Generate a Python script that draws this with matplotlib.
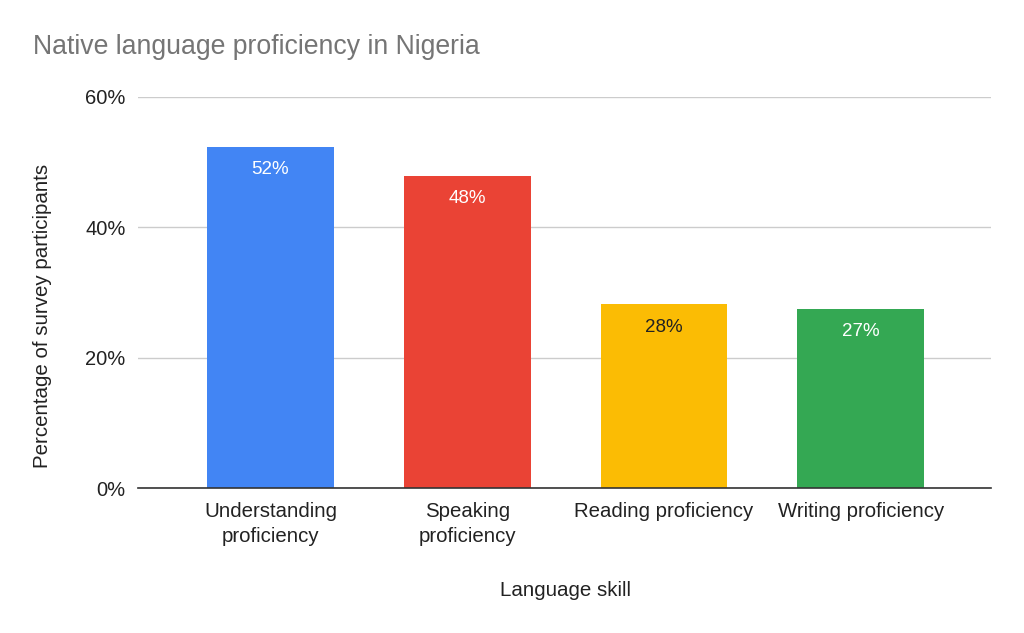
import matplotlib
matplotlib.use("Agg")
import matplotlib.pyplot as plt
from matplotlib.ticker import FuncFormatter

categories = ["Understanding\nproficiency", "Speaking\nproficiency", "Reading proficiency", "Writing proficiency"]
values = [52.4, 47.9, 28.2, 27.5]
labels = ["52%", "48%", "28%", "27%"]
colors = ["#4285F4", "#EA4335", "#FBBC04", "#34A853"]
label_colors = ["white", "white", "#222222", "white"]
yticks = [0, 20, 40, 60]

plt.rcParams['font.family'] = ['Liberation Sans', 'DejaVu Sans']

fig = plt.figure(figsize=(10.24, 6.33), dpi=100)
ax = fig.add_axes([138/1024, 1-488/633, (991-138)/1024, (488-97)/633])

x = list(range(len(categories)))
ax.bar(x, values, width=0.645, color=colors, zorder=3)
for xi, v, lab, lc in zip(x, values, labels, label_colors):
    ax.annotate(lab, (xi, v), xytext=(0, -23), textcoords="offset pixels",
                ha="center", va="center", color=lc, fontsize=13.5, zorder=4)

ax.set_xlim(-0.673, 3.662)
ax.set_ylim(0, 60)
ax.set_yticks(yticks)
ax.yaxis.set_major_formatter(FuncFormatter(lambda v, p: f"{int(v)}%"))
ax.set_xticks(x)
ax.set_xticklabels(categories, fontsize=14.7, color="#222222", linespacing=1.4)
ax.tick_params(axis="y", length=0, pad=9, labelsize=14.5, labelcolor="#222222")
ax.tick_params(axis="x", length=0, pad=10)
ax.grid(axis="y", color="#cccccc", linewidth=1, zorder=0)
for s in ["top", "right", "left"]:
    ax.spines[s].set_visible(False)
ax.spines["bottom"].set_color("#333333")
ax.spines["bottom"].set_linewidth(1.2)
ax.spines["bottom"].set_zorder(5)

fig.text(33/1024, 1-47/633, "Native language proficiency in Nigeria", fontsize=19.2,
         color="#757575", ha="left", va="center")
fig.text(43/1024, 1-316/633, "Percentage of survey participants", rotation=90,
         fontsize=14.8, color="#222222", ha="center", va="center")
fig.text(565/1024, 1-590/633, "Language skill", fontsize=14.8, color="#222222",
         ha="center", va="center")

fig.savefig("out.png", dpi=100)
